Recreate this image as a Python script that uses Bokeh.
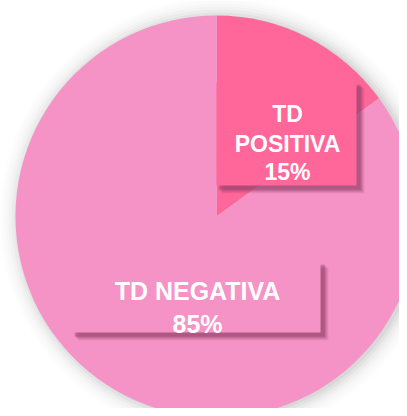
import math
from bokeh.plotting import figure
from bokeh.models import Range1d, ColumnDataSource
from bokeh.core.properties import value
from bokeh.embed import file_html
from bokeh.resources import INLINE

# Data
categories = ["TD POSITIVA", "TD NEGATIVA"]
percentages = [15, 85]
label_lines = [["TD", "POSITIVA", "15%"], ["TD NEGATIVA", "85%"]]
colors = ["#FF6699", "#F693C6"]

W, H = 399, 408
p = figure(width=W, height=H, output_backend="svg", toolbar_location=None,
           x_range=Range1d(0, 399), y_range=Range1d(8, 416),
           min_border=0)
p.axis.visible = False
p.grid.visible = False
p.outline_line_color = None
p.background_fill_color = "white"

cx, cy, r = 216, 200, 201

# soft shadow around pie
for i, a in enumerate([0.06, 0.05, 0.04, 0.03, 0.02, 0.015, 0.01]):
    p.circle(x=[cx + 3], y=[cy - 1], radius=r + 1 + i * 3, fill_color="#505050",
             fill_alpha=a, line_color=None)

# wedges from data (clockwise from 12 o'clock)
total = sum(percentages)
starts, ends = [], []
cum = 0
for v in percentages:
    a0 = math.pi / 2 - 2 * math.pi * (cum + v) / total
    a1 = math.pi / 2 - 2 * math.pi * cum / total
    starts.append(a0)
    ends.append(a1)
    cum += v
src = ColumnDataSource(dict(x=[cx] * len(percentages), y=[cy] * len(percentages),
                            start=starts, end=ends, color=colors, cat=categories))
p.wedge(x="x", y="y", radius=r, start_angle="start", end_angle="end",
        fill_color="color", line_color=None, source=src)

# label boxes (pixel coords from top-left -> y up)
boxes = [
    dict(left=216, right=356, top=416 - 82, bottom=416 - 185),
    dict(left=72, right=320, top=416 - 262, bottom=416 - 332),
]
for b, col in zip(boxes, colors):
    # blurred drop shadow
    for off, al in [(8, 0.10), (7, 0.15), (6, 0.2), (5, 0.25), (4, 0.3)]:
        p.quad(left=b["left"] + off - 2, right=b["right"] + off,
               top=b["top"] - off + 2, bottom=b["bottom"] - off,
               fill_color="#8E3F66", fill_alpha=al, line_color=None)
    p.quad(left=b["left"], right=b["right"], top=b["top"], bottom=b["bottom"],
           fill_color=col, line_color=None)

# label texts
text_specs = [
    dict(x=287, baselines=[113, 143, 171], size="23px"),
    dict(x=197, baselines=[290, 323], size="25px"),
]
for spec, lines in zip(text_specs, label_lines):
    p.text(x=[spec["x"]] * len(lines), y=[416 - b for b in spec["baselines"]],
           text=lines, text_align="center", text_baseline="alphabetic",
           text_color="white", text_font=value("Liberation Sans"),
           text_font_style="bold", text_font_size=spec["size"])

open("out.html", "w").write(file_html(p, INLINE))
